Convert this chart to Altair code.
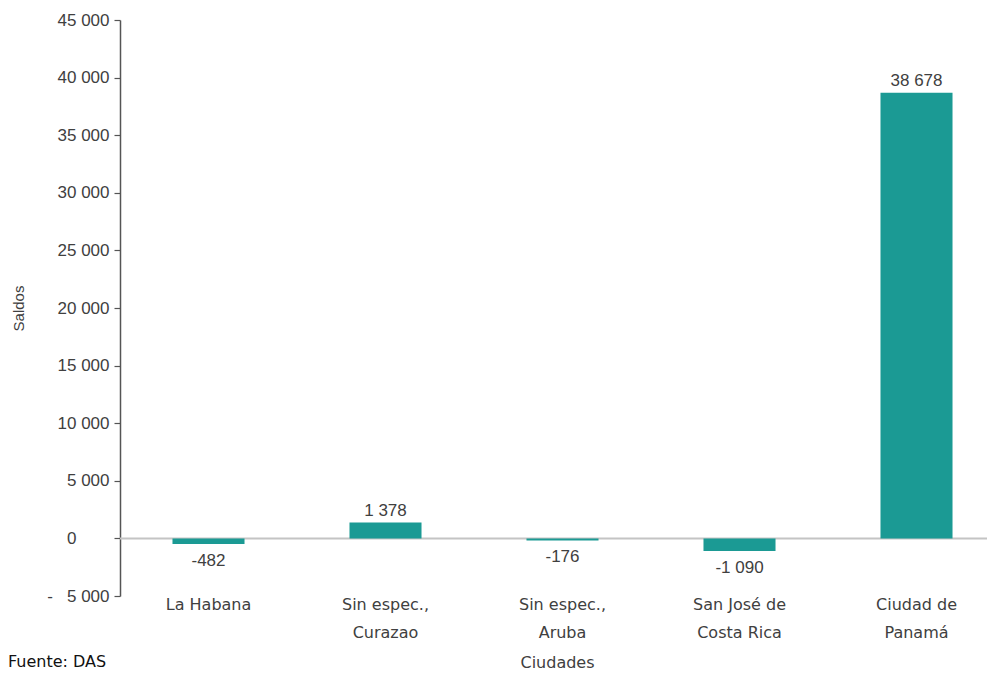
import altair as alt
import pandas as pd

# ---- data ----
ciudades = [
    "La Habana",
    "Sin espec.,|Curazao",
    "Sin espec.,|Aruba",
    "San José de|Costa Rica",
    "Ciudad de|Panamá",
]
saldos = [-482, 1378, -176, -1090, 38678]
y_ticks = [-5000, 0, 5000, 10000, 15000, 20000, 25000, 30000, 35000, 40000, 45000]
titulo_y = "Saldos"
titulo_x = "Ciudades"
fuente = "Fuente: DAS"


def fmt(v):
    s = f"{abs(v):,}".replace(",", " ")
    return ("-" if v < 0 else "") + s


df = pd.DataFrame({
    "ciudad": ciudades,
    "saldo": saldos,
    "etiqueta": [fmt(v) for v in saldos],
})

TEAL = "#1b9a94"
TXT = "#404040"

x_enc = alt.X(
    "ciudad:N",
    sort=ciudades,
    scale=alt.Scale(paddingInner=0.593, paddingOuter=0.2965),
    axis=alt.Axis(
        title=titulo_x,
        labelExpr="split(datum.label, '|')",
        labelAngle=0,
        labelFont="DejaVu Sans",
        labelFontSize=16,
        labelColor=TXT,
        labelLineHeight=28,
        labelBaseline="top",
        labelPadding=0,
        ticks=False,
        domain=False,
        titleFont="DejaVu Sans",
        titleFontSize=16,
        titleFontWeight="normal",
        titleColor=TXT,
        titleX=437,
        titleY=71,
        titleBaseline="alphabetic",
    ),
)

y_label_expr = (
    "(datum.value < 0 ? '-\u00a0\u00a0\u00a0' : '') + "
    "replace(format(abs(datum.value), ',d'), regexp(',', 'g'), ' ')"
)

y_enc = alt.Y(
    "saldo:Q",
    scale=alt.Scale(domain=[-5000, 45000], nice=False, zero=False),
    axis=alt.Axis(
        title=titulo_y,
        values=y_ticks,
        labelExpr=y_label_expr,
        labelFont="Liberation Sans",
        labelFontSize=17,
        labelColor=TXT,
        labelPadding={"condition": {"test": "datum.value == 0", "value": 38}, "value": 5},
        tickSize=6,
        tickColor="#555555",
        domainColor="#555555",
        domainWidth=1.5,
        tickWidth=1.2,
        grid=False,
        titleFont="Liberation Sans",
        titleFontSize=15,
        titleFontWeight="normal",
        titleColor=TXT,
        titleX=-102,
        titleY=288,
        titleBaseline="middle",
        titleAngle=-90,
    ),
)

base = alt.Chart(df)

bars = base.mark_bar(color=TEAL).encode(x=x_enc, y=y_enc)

zero = alt.Chart(pd.DataFrame({"cero": [0]})).mark_rule(
    color="#c4c4c4", strokeWidth=2
).encode(y=alt.Y("cero:Q"))

pos_labels = base.transform_filter("datum.saldo >= 0").mark_text(
    font="Liberation Sans", fontSize=17, color=TXT, baseline="middle", dy=-12
).encode(x=alt.X("ciudad:N", sort=ciudades), y=alt.Y("saldo:Q"), text="etiqueta:N")

neg_labels = base.transform_filter("datum.saldo < 0").mark_text(
    font="Liberation Sans", fontSize=17, color=TXT, baseline="middle", dy=17
).encode(x=alt.X("ciudad:N", sort=ciudades), y=alt.Y("saldo:Q"), text="etiqueta:N")

note = alt.Chart(pd.DataFrame({"nota": [fuente]})).mark_text(
    font="DejaVu Sans", fontSize=16, color="#111111", align="left", baseline="alphabetic"
).encode(text="nota:N", x=alt.value(-112), y=alt.value(647))

chart = alt.layer(zero, bars, pos_labels, neg_labels, note).properties(
    width=885,
    height=576,
    autosize=alt.AutoSizeParams(type="none"),
    padding={"left": 112, "top": 12, "right": -18, "bottom": 77},
).configure(background="white").configure_view(stroke=None)

chart.save("out.html", embed_options={"renderer": "svg", "actions": False})
